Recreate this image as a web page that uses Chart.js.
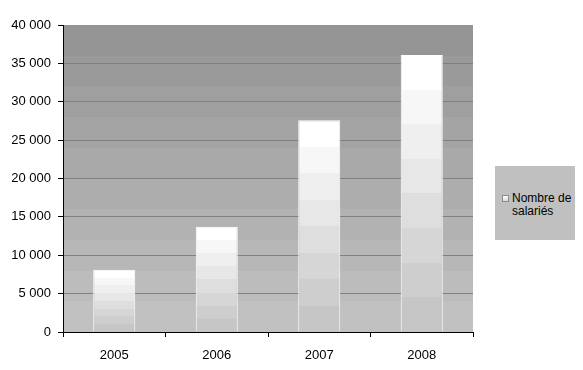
<!DOCTYPE html>
<html>
<head>
<meta charset="utf-8">
<script src="https://cdn.jsdelivr.net/npm/chart.js@4"></script>
<style>
  body { margin: 0; background: #fff; }
  #wrap { position: relative; width: 583px; height: 370px; }
  #legend {
    position: absolute; left: 495px; top: 166px; width: 80px; height: 74px;
    background: #c0c0c0;
    font: 12px "Liberation Sans", Arial, sans-serif; color: #000;
  }
  #legend .mark {
    position: absolute; left: 7px; top: 29px; width: 5px; height: 5px;
    border: 1px solid #8c8c8c;
    background: linear-gradient(#ffffff, #d8d8d8);
  }
  #legend .txt {
    position: absolute; left: 17px; top: 26px; width: 62px; line-height: 13px;
  }
</style>
</head>
<body>
<div id="wrap">
  <canvas id="chart" width="583" height="370"></canvas>
  <div id="legend"><span class="mark"></span><div class="txt" id="legendText"></div></div>
</div>
<script>
const years = ['2005', '2006', '2007', '2008'];
const salaries = [8100, 13700, 27600, 36100];
const seriesName = 'Nombre de salariés';
const yMax = 40000;
const yStep = 5000;

document.getElementById('legendText').textContent = seriesName;

// hex -> [r,g,b]
function rgb(hex){
    return [1, 3, 5].map(i => parseInt(hex.substr(i, 2), 16));
}

// stepped gradient, like the Excel fill bands
function bands(ctx, y0, y1, c0, c1, n){
    const a = rgb(c0), b = rgb(c1);
    const g = ctx.createLinearGradient(0, y0, 0, y1);
    for (let i = 0; i < n; i++){
        const t = i / (n - 1);
        const c = 'rgb(' + a.map((v, k) => Math.round(v + (b[k] - v) * t)).join(',') + ')';
        g.addColorStop(i / n, c);
        g.addColorStop((i + 1) / n, c);
    }
    return g;
}

function fmt(v){
    return String(v).replace(/\B(?=(\d{3})+(?!\d))/g, ' ');
}

const plotBg = {
    id: 'plotBg',
    beforeDraw(chart){
        const a = chart.chartArea;
        const ctx = chart.ctx;
        ctx.save();
        ctx.fillStyle = bands(ctx, a.top, a.bottom, '#959595', '#c1c1c1', 10);
        ctx.fillRect(a.left, a.top, a.right - a.left, a.bottom - a.top);
        ctx.restore();
    }
};

const font = { family: '"Liberation Sans", Arial, sans-serif', size: 13 };

new Chart(document.getElementById('chart'), {
    type: 'bar',
    data: {
        labels: years,
        datasets: [{
            label: seriesName,
            data: salaries,
            backgroundColor: function(c){
                const chart = c.chart;
                if (!chart.chartArea || c.type !== 'data') return '#ffffff';
                const y = chart.scales.y;
                const top = y.getPixelForValue(c.parsed.y);
                const base = y.getPixelForValue(0);
                return bands(chart.ctx, top, base, '#ffffff', '#c6c6c6', 8);
            },
            borderColor: '#ffffff',
            borderWidth: 1,
            borderSkipped: 'bottom',
            barPercentage: 0.41,
            categoryPercentage: 1
        }]
    },
    options: {
        responsive: false,
        animation: false,
        layout: { padding: { top: 25, right: 110, left: 0, bottom: 0 } },
        plugins: {
            legend: { display: false },
            tooltip: { enabled: false }
        },
        scales: {
            x: {
                grid: { offset: true, drawOnChartArea: false, tickLength: 5, tickColor: '#000' },
                border: { color: '#000', width: 1 },
                ticks: { color: '#000', font: font, padding: 11 },
                afterFit(s){ s.height = 38; }
            },
            y: {
                min: 0,
                max: yMax,
                grid: {
                    color: c => (c.tick && c.tick.value === yMax) ? 'rgba(0,0,0,0)' : '#808080',
                    tickLength: 5,
                    tickColor: '#000'
                },
                border: { color: '#000', width: 1 },
                ticks: { stepSize: yStep, color: '#000', font: font, padding: 7, callback: v => fmt(v) },
                afterFit(s){ s.width = 63; }
            }
        }
    },
    plugins: [plotBg]
});
</script>
</body>
</html>
